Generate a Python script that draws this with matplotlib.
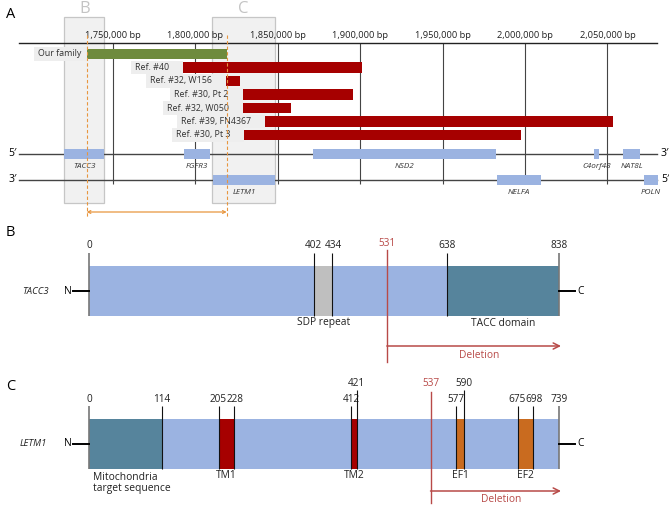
import matplotlib
matplotlib.use('Agg')
import matplotlib.pyplot as plt
from matplotlib.patches import Rectangle

plt.rcParams['font.family'] = ['Open Sans', 'DejaVu Sans']

# ---- panel A: genomic region (bp) ----
tick_bp = [1750000, 1800000, 1850000, 1900000, 1950000, 2000000, 2050000]
cnv_labels = ['Our family', 'Ref. #40', 'Ref. #32, W156', 'Ref. #30, Pt 2',
              'Ref. #32, W050', 'Ref. #39, FN4367', 'Ref. #30, Pt 3']
cnv_start = [1734000, 1792700, 1818600, 1828700, 1828700, 1842200, 1829500]
cnv_end = [1819000, 1900900, 1827100, 1895800, 1858000, 2053200, 1997400]
fwd_genes = ['TACC3', 'FGFR3', 'NSD2', 'C4orf48', 'NAT8L']
fwd_start = [1720500, 1793300, 1871200, 2041900, 2059500]
fwd_end = [1744700, 1808900, 1982400, 2044700, 2069800]
rev_genes = ['LETM1', 'NELFA', 'POLN']
rev_start = [1810900, 1982800, 2072200]
rev_end = [1848300, 2009500, 2080500]
region = [1693000, 2080000]

# ---- panel B: TACC3 protein ----
tacc3_len = 838
tacc3_dom = ['SDP repeat', 'TACC domain']
tacc3_dom_start = [402, 638]
tacc3_dom_end = [434, 838]
tacc3_break = 531

# ---- panel C: LETM1 protein ----
letm1_len = 739
letm1_dom = ['Mitochondria\ntarget sequence', 'TM1', 'TM2', 'EF1', 'EF2']
letm1_dom_start = [0, 205, 412, 577, 675]
letm1_dom_end = [114, 228, 421, 590, 698]
letm1_break = 537

BLUE = '#9bb3e1'
TEAL = '#56849c'
DRED = '#a60000'
GREEN = '#6e8b3d'
ORANGE = '#c96b1f'
BRK = '#b84a48'
DASH = '#e8963f'

W, H, DPI = 669, 507, 100
fig = plt.figure(figsize=(W / DPI, H / DPI), dpi=DPI)


def panel(top, bottom, x0_px, upp, x0_val):
    ax = fig.add_axes([0, 1 - bottom / H, 1, (bottom - top) / H])
    ax.set_xlim(x0_val - x0_px * upp, x0_val + (W - x0_px) * upp)
    ax.set_ylim(bottom, top)
    ax.axis('off')
    return ax


# ================= A =================
uA = 50000 / 82.4
axA = panel(0, 225, 113, uA, 1750000)
fig.text(6 / W, 1 - 15 / H, 'A', fontsize=10.5, va='center')

# highlight boxes for TACC3 / LETM1
for lab, s, e in [('B', fwd_start[0], fwd_end[0]), ('C', rev_start[0] - 1.0 * uA, rev_end[0])]:
    axA.add_patch(Rectangle((s, 17), e - s, 186, fc='#f1f1f1', ec='#c6c6c6', lw=0.9, zorder=0))
    axA.text((s + e) / 2, 9, lab, color='#c4c4c4', fontsize=12, ha='center', va='center')

axA.plot(region, [43, 43], color='#222222', lw=1.0, zorder=2)
axA.vlines(tick_bp, 43, 184, color='#444444', lw=0.8, zorder=1)
for t in tick_bp:
    axA.text(t, 35, f'{t:,} bp', ha='center', va='center', fontsize=6.7, color='#222222')

row_y = [54 + 13.5 * i for i in range(len(cnv_labels))]
cols = [GREEN] + [DRED] * (len(cnv_labels) - 1)
axA.barh(row_y, [e - s for s, e in zip(cnv_start, cnv_end)], left=cnv_start,
         height=10.5, color=cols, zorder=3)
lab_txt = []
for lab, s, y in zip(cnv_labels, cnv_start, row_y):
    gap = 5 if lab == cnv_labels[0] else 14
    lab_txt.append(axA.text(s - gap * uA, y, lab, ha='right', va='center',
                            fontsize=6.4, color='#333333', zorder=3))

# strands and genes
for y, l, r in [(154, "5′", "3′"), (180, "3′", "5′")]:
    axA.plot(region, [y, y], color='#444444', lw=1.0, zorder=1)
    axA.text(region[0] - 2 * uA, y, l, ha='right', va='center', fontsize=7.5)
    axA.text(region[1] + 4 * uA, y, r, ha='left', va='center', fontsize=7.5)
axA.barh([154] * len(fwd_genes), [e - s for s, e in zip(fwd_start, fwd_end)],
         left=fwd_start, height=10, color=BLUE, zorder=3)
axA.barh([180] * len(rev_genes), [e - s for s, e in zip(rev_start, rev_end)],
         left=rev_start, height=10, color=BLUE, zorder=3)
for g, s, e in zip(fwd_genes, fwd_start, fwd_end):
    axA.text((s + e) / 2, 166, g, ha='center', va='center', fontsize=5.9,
             style='italic', color='#333333', zorder=4)
for g, s, e in zip(rev_genes, rev_start, rev_end):
    axA.text((s + e) / 2, 192, g, ha='center', va='center', fontsize=5.9,
             style='italic', color='#333333', zorder=4)

# breakpoints of our family
axA.vlines([cnv_start[0], cnv_end[0]], 35, 217, color=DASH, lw=0.8,
           linestyles=(0, (3, 2)), zorder=4)
axA.annotate('', xy=(cnv_start[0], 212), xytext=(cnv_end[0], 212),
             arrowprops=dict(arrowstyle='<->', color=DASH, lw=0.9,
                             mutation_scale=5, shrinkA=0, shrinkB=0))

# label boxes behind the reference names
fig.canvas.draw()
rend = fig.canvas.get_renderer()
inv = axA.transData.inverted()
for t, s, y in zip(lab_txt, cnv_start, row_y):
    bb = t.get_window_extent(rend)
    x0 = inv.transform((bb.x0, 0))[0] - 4 * uA
    axA.add_patch(Rectangle((x0, y - 6.6), s - x0, 13.2, fc='#eeeeee', ec='none', zorder=2))


# ================= protein panels =================
def protein(ax, upp, name, length, dom, d_start, d_end, d_cols, brk,
            top, bot, tick_top, lab_y, raise_top, raise_y, brk_top, brk_bot,
            arr_y, name_left):
    cy = (top + bot) / 2
    ax.add_patch(Rectangle((0, top), length, bot - top, fc=BLUE, ec='none', zorder=1))
    for s, e, c in zip(d_start, d_end, d_cols):
        ax.add_patch(Rectangle((s, top), e - s, bot - top, fc=c, ec='none', zorder=2))
    ticks = sorted(set([0, length] + d_start + d_end))
    raised = [e for s, e in zip(d_start, d_end) if e - s < 15]
    low = [t for t in ticks if t not in raised]
    shift = {t: 0.0 for t in ticks}
    for a, b in zip(low[:-1], low[1:]):
        if (b - a) / upp < 19:
            shift[a] -= 1.5 * upp
            shift[b] += 1.5 * upp
    for t in ticks:
        edge = t in (0, length)
        y0 = raise_top if t in raised else tick_top
        ax.plot([t, t], [y0, bot], color='#777777' if edge else '#111111',
                lw=1.2 if edge else 0.8, zorder=3, solid_capstyle='butt')
        ax.text(t + shift[t], raise_y if t in raised else lab_y, str(t), ha='center',
                va='center', fontsize=7.2, color='#222222')
    for n, s, e in zip(dom, d_start, d_end):
        if '\n' in n:
            ax.text(s + 4 * upp, bot + 3, n, ha='left', va='top', fontsize=7.4,
                    color='#222222', linespacing=1.05)
        else:
            ax.text((s + e) / 2, bot + 7, n, ha='center', va='center', fontsize=7.4,
                    color='#222222')
    stub = 16 * upp
    ax.plot([-stub, 0], [cy, cy], color='black', lw=1.4, zorder=3)
    ax.plot([length, length + stub], [cy, cy], color='black', lw=1.4, zorder=3)
    ax.text(-stub - 1 * upp, cy, 'N', ha='right', va='center', fontsize=7.4)
    ax.text(length + stub + 2 * upp, cy, 'C', ha='left', va='center', fontsize=7.4)
    ax.text(name_left, cy, name, ha='center', va='center', fontsize=6.8, style='italic',
            color='#222222')
    ax.plot([brk, brk], [brk_top, brk_bot], color=BRK, lw=1.0, zorder=4)
    ax.text(brk, raise_y - 1, str(brk), ha='center', va='center', fontsize=7.2, color=BRK)
    ax.annotate('', xy=(length + 2 * upp, arr_y), xytext=(brk, arr_y),
                arrowprops=dict(arrowstyle='->', color=BRK, lw=1.1,
                                mutation_scale=11, shrinkA=0, shrinkB=0))
    ax.text((brk + length) / 2 + 6 * upp, arr_y + 9, 'Deletion', ha='center',
            va='center', fontsize=7.4, color=BRK)


uB = tacc3_len / 470
axB = panel(225, 365, 89, uB, 0)
fig.text(6 / W, 1 - 233 / H, 'B', fontsize=10.5, va='center')
protein(axB, uB, 'TACC3', tacc3_len, tacc3_dom, tacc3_dom_start, tacc3_dom_end,
        ['#bfbfbf', TEAL], tacc3_break, 266, 316, 253, 246, 253, 244,
        250, 362, 346, -54 * uB)

uC = letm1_len / 470
axC = panel(365, 507, 89, uC, 0)
fig.text(6 / W, 1 - 387 / H, 'C', fontsize=10.5, va='center')
protein(axC, uC, 'LETM1', letm1_len, letm1_dom, letm1_dom_start, letm1_dom_end,
        [TEAL, DRED, DRED, ORANGE, ORANGE], letm1_break, 419, 469, 406, 399, 390, 384,
        392, 503, 491, -56 * uC)

fig.savefig('out.png', dpi=DPI)
